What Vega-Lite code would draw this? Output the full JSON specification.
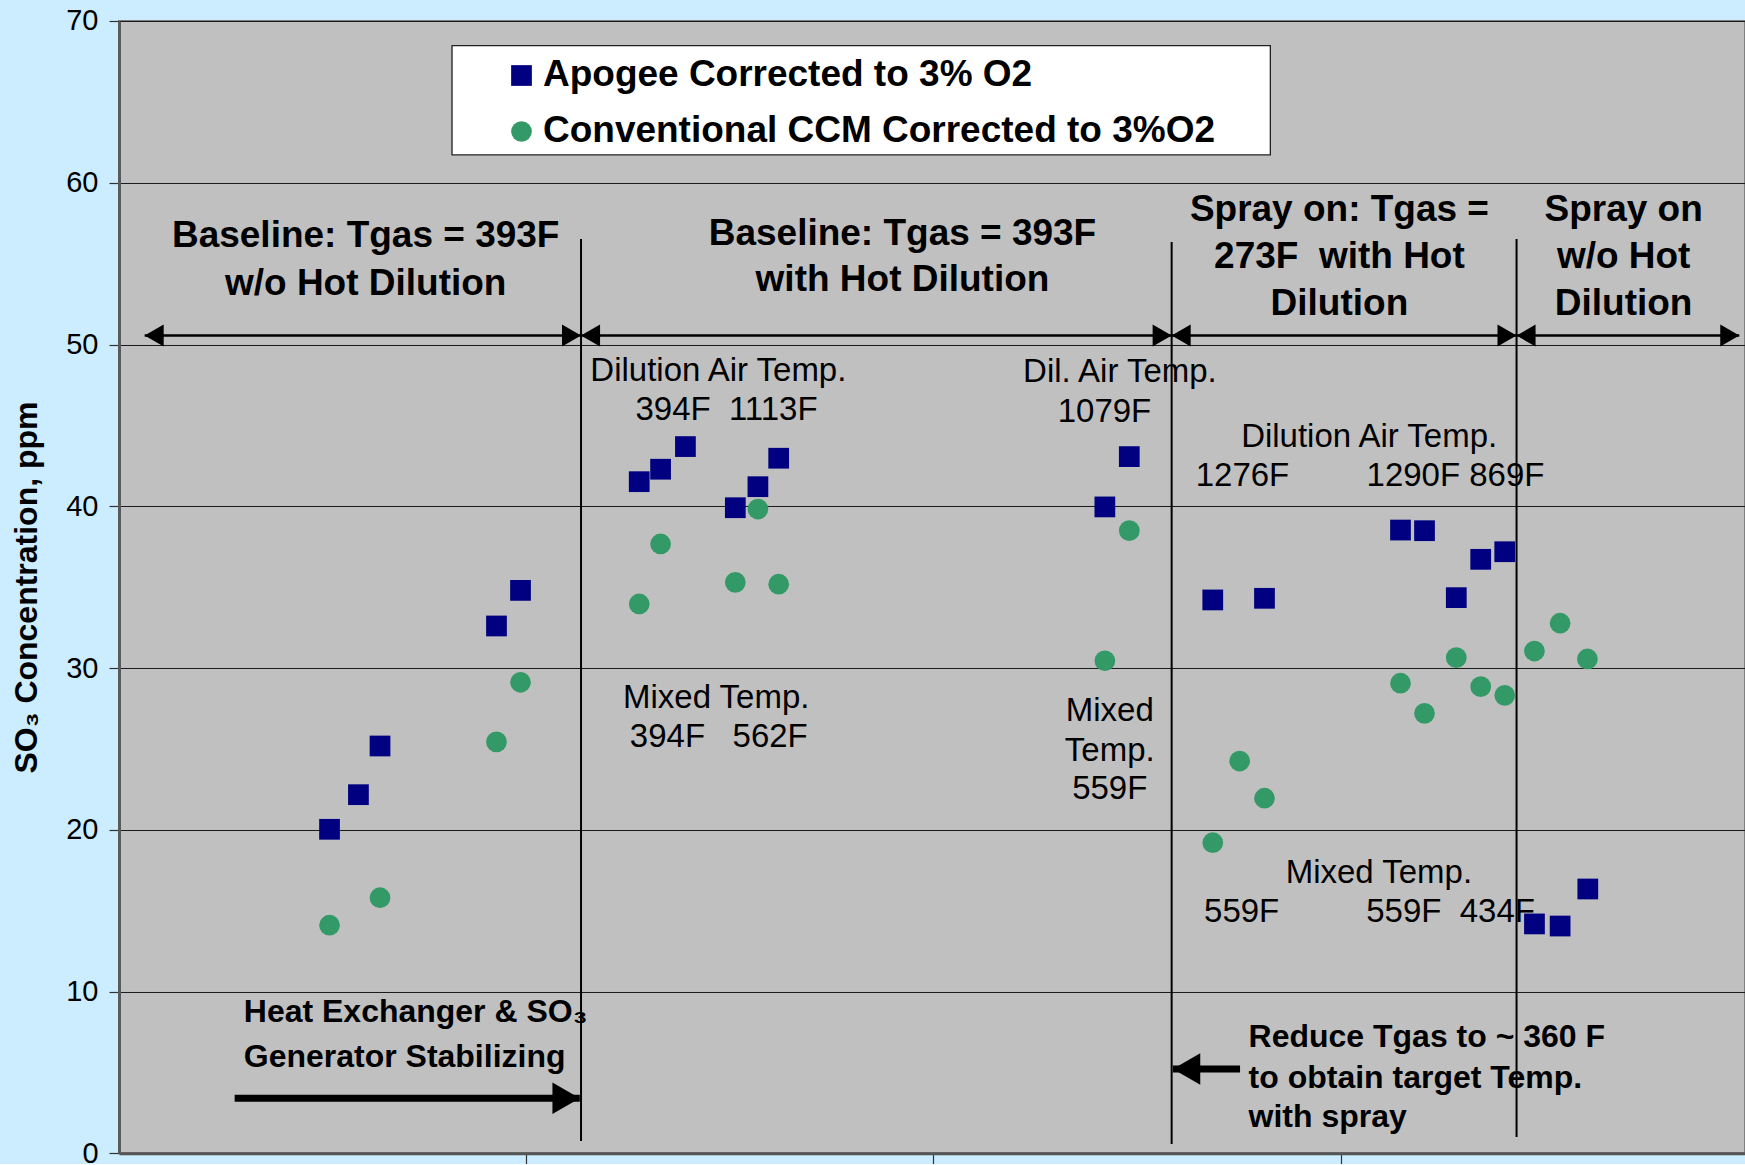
{
  "$schema": "https://vega.github.io/schema/vega-lite/v6.json",
  "width": 1626,
  "height": 1132.3,
  "autosize": {"type": "none"},
  "padding": {"left": 119, "top": 21, "right": 0, "bottom": 11},
  "background": "#CCECFF",
  "config": {
    "view": {"fill": "#C0C0C0", "stroke": "#808080", "strokeWidth": 2},
    "font": "Liberation Sans",
    "legend": {
      "orient": "none",
      "legendX": 384,
      "legendY": 36,
      "title": null,
      "padding": 0,
      "labelFont": "Liberation Sans",
      "labelFontSize": 37,
      "labelFontWeight": "bold",
      "labelColor": "#000000",
      "labelOffset": 3,
      "labelLimit": 1200,
      "rowPadding": 18,
      "symbolSize": 430,
      "symbolStrokeWidth": 0
    }
  },
  "datasets": {
    "readings": [
      {"t": 0.517, "so3": 20.03, "series": "Apogee Corrected to 3% O2"},
      {"t": 0.588, "so3": 22.17, "series": "Apogee Corrected to 3% O2"},
      {"t": 0.641, "so3": 25.18, "series": "Apogee Corrected to 3% O2"},
      {"t": 0.927, "so3": 32.6, "series": "Apogee Corrected to 3% O2"},
      {"t": 0.986, "so3": 34.8, "series": "Apogee Corrected to 3% O2"},
      {"t": 1.2775, "so3": 41.52, "series": "Apogee Corrected to 3% O2"},
      {"t": 1.33, "so3": 42.29, "series": "Apogee Corrected to 3% O2"},
      {"t": 1.391, "so3": 43.69, "series": "Apogee Corrected to 3% O2"},
      {"t": 1.5135, "so3": 39.91, "series": "Apogee Corrected to 3% O2"},
      {"t": 1.569, "so3": 41.21, "series": "Apogee Corrected to 3% O2"},
      {"t": 1.62, "so3": 42.97, "series": "Apogee Corrected to 3% O2"},
      {"t": 2.421, "so3": 39.96, "series": "Apogee Corrected to 3% O2"},
      {"t": 2.481, "so3": 43.07, "series": "Apogee Corrected to 3% O2"},
      {"t": 2.686, "so3": 34.21, "series": "Apogee Corrected to 3% O2"},
      {"t": 2.813, "so3": 34.31, "series": "Apogee Corrected to 3% O2"},
      {"t": 3.147, "so3": 38.53, "series": "Apogee Corrected to 3% O2"},
      {"t": 3.206, "so3": 38.49, "series": "Apogee Corrected to 3% O2"},
      {"t": 3.284, "so3": 34.35, "series": "Apogee Corrected to 3% O2"},
      {"t": 3.344, "so3": 36.72, "series": "Apogee Corrected to 3% O2"},
      {"t": 3.403, "so3": 37.19, "series": "Apogee Corrected to 3% O2"},
      {"t": 3.476, "so3": 14.18, "series": "Apogee Corrected to 3% O2"},
      {"t": 3.539, "so3": 14.05, "series": "Apogee Corrected to 3% O2"},
      {"t": 3.607, "so3": 16.34, "series": "Apogee Corrected to 3% O2"},
      {"t": 0.517, "so3": 14.1, "series": "Conventional CCM Corrected to 3%O2"},
      {"t": 0.641, "so3": 15.8, "series": "Conventional CCM Corrected to 3%O2"},
      {"t": 0.927, "so3": 25.43, "series": "Conventional CCM Corrected to 3%O2"},
      {"t": 0.986, "so3": 29.12, "series": "Conventional CCM Corrected to 3%O2"},
      {"t": 1.2775, "so3": 33.96, "series": "Conventional CCM Corrected to 3%O2"},
      {"t": 1.33, "so3": 37.67, "series": "Conventional CCM Corrected to 3%O2"},
      {"t": 1.5135, "so3": 35.3, "series": "Conventional CCM Corrected to 3%O2"},
      {"t": 1.569, "so3": 39.83, "series": "Conventional CCM Corrected to 3%O2"},
      {"t": 1.62, "so3": 35.18, "series": "Conventional CCM Corrected to 3%O2"},
      {"t": 2.421, "so3": 30.45, "series": "Conventional CCM Corrected to 3%O2"},
      {"t": 2.481, "so3": 38.49, "series": "Conventional CCM Corrected to 3%O2"},
      {"t": 2.686, "so3": 19.2, "series": "Conventional CCM Corrected to 3%O2"},
      {"t": 2.752, "so3": 24.25, "series": "Conventional CCM Corrected to 3%O2"},
      {"t": 2.813, "so3": 21.95, "series": "Conventional CCM Corrected to 3%O2"},
      {"t": 3.147, "so3": 29.06, "series": "Conventional CCM Corrected to 3%O2"},
      {"t": 3.206, "so3": 27.2, "series": "Conventional CCM Corrected to 3%O2"},
      {"t": 3.284, "so3": 30.64, "series": "Conventional CCM Corrected to 3%O2"},
      {"t": 3.344, "so3": 28.85, "series": "Conventional CCM Corrected to 3%O2"},
      {"t": 3.403, "so3": 28.31, "series": "Conventional CCM Corrected to 3%O2"},
      {"t": 3.476, "so3": 31.05, "series": "Conventional CCM Corrected to 3%O2"},
      {"t": 3.539, "so3": 32.77, "series": "Conventional CCM Corrected to 3%O2"},
      {"t": 3.606, "so3": 30.56, "series": "Conventional CCM Corrected to 3%O2"}
    ],
    "legendBox": [
      {"x1": 0.8178, "x2": 2.8274, "y1": 61.72, "y2": 68.48}
    ],
    "dividers": [
      {"t": 1.1346, "top": 56.53, "bottom": 0.76},
      {"t": 2.585, "top": 56.34, "bottom": 0.57},
      {"t": 3.432, "top": 56.53, "bottom": 1.0}
    ],
    "spans": [
      {"start": 0.063, "end": 1.1346, "level": 50.55},
      {"start": 1.1346, "end": 2.585, "level": 50.55},
      {"start": 2.585, "end": 3.432, "level": 50.55},
      {"start": 3.432, "end": 3.979, "level": 50.55}
    ],
    "pointers": [
      {"from": 0.284, "tip": 1.1316, "level": 3.4, "dir": "right"},
      {"from": 2.753, "tip": 2.588, "level": 5.21, "dir": "left"}
    ],
    "headings": [
      {"t": 0.6058, "y": 56.05, "label": "Baseline: Tgas = 393F"},
      {"t": 0.6058, "y": 53.07, "label": "w/o Hot Dilution"},
      {"t": 1.924, "y": 56.15, "label": "Baseline: Tgas = 393F"},
      {"t": 1.924, "y": 53.31, "label": "with Hot Dilution"},
      {"t": 2.997, "y": 57.64, "label": "Spray on: Tgas ="},
      {"t": 2.997, "y": 54.71, "label": "273F\u00a0\u00a0with Hot"},
      {"t": 2.997, "y": 51.83, "label": "Dilution"},
      {"t": 3.695, "y": 57.64, "label": "Spray on"},
      {"t": 3.695, "y": 54.71, "label": "w/o Hot"},
      {"t": 3.695, "y": 51.83, "label": "Dilution"}
    ],
    "notes": [
      {"t": 1.4718, "y": 47.77, "label": "Dilution Air Temp."},
      {"t": 1.4919, "y": 45.34, "label": "394F\u00a0\u00a01113F"},
      {"t": 2.458, "y": 47.7, "label": "Dil. Air Temp."},
      {"t": 2.42, "y": 45.23, "label": "1079F"},
      {"t": 3.07, "y": 43.69, "label": "Dilution Air Temp."},
      {"t": 2.759, "y": 41.25, "label": "1276F"},
      {"t": 3.282, "y": 41.25, "label": "1290F 869F"},
      {"t": 1.4666, "y": 27.51, "label": "Mixed Temp."},
      {"t": 1.4729, "y": 25.1, "label": "394F\u00a0\u00a0\u00a0562F"},
      {"t": 2.433, "y": 26.75, "label": "Mixed"},
      {"t": 2.433, "y": 24.27, "label": "Temp."},
      {"t": 2.433, "y": 21.89, "label": "559F"},
      {"t": 3.094, "y": 16.69, "label": "Mixed Temp."},
      {"t": 2.757, "y": 14.28, "label": "559F"},
      {"t": 3.27, "y": 14.28, "label": "559F\u00a0\u00a0434F"}
    ],
    "callouts": [
      {"t": 0.3065, "y": 8.14, "label": "Heat Exchanger & SO₃"},
      {"t": 0.3065, "y": 5.36, "label": "Generator Stabilizing"},
      {"t": 2.774, "y": 6.59, "label": "Reduce Tgas to ~ 360 F"},
      {"t": 2.774, "y": 4.02, "label": "to obtain target Temp."},
      {"t": 2.774, "y": 1.61, "label": "with spray"}
    ]
  },
  "layer": [
    {
      "data": {"name": "legendBox"},
      "mark": {"type": "rect", "fill": "#FFFFFF", "stroke": "#222222", "strokeWidth": 1.3},
      "encoding": {
        "x": {
          "field": "x1",
          "type": "quantitative",
          "scale": {"domain": [0, 3.993], "nice": false, "zero": false},
          "axis": {
            "title": "",
            "values": [1, 2, 3],
            "labels": false,
            "grid": false,
            "domain": true,
            "ticks": true,
            "domainColor": "#555555",
            "domainWidth": 3,
            "tickColor": "#333333",
            "tickSize": 11,
            "tickWidth": 1.2
          }
        },
        "x2": {"field": "x2"},
        "y": {
          "field": "y1",
          "type": "quantitative",
          "scale": {"domain": [0, 70], "nice": false},
          "axis": {
            "title": "SO₃ Concentration, ppm",
            "titleFont": "Liberation Sans",
            "titleFontSize": 32,
            "titleFontWeight": "bold",
            "titleColor": "#000000",
            "titleAngle": 270,
            "titleAlign": "center",
            "titleBaseline": "alphabetic",
            "titleX": -83,
            "titleY": 566,
            "values": [0, 10, 20, 30, 40, 50, 60, 70],
            "grid": true,
            "domain": true,
            "ticks": true,
            "labels": true,
            "labelFlush": false,
            "labelBaseline": "middle",
            "gridColor": "#1a1a1a",
            "gridWidth": 1,
            "gridOpacity": 1,
            "domainColor": "#5a5a5a",
            "domainWidth": 3,
            "tickColor": "#333333",
            "tickSize": 10,
            "tickWidth": 1.2,
            "labelFont": "Liberation Sans",
            "labelFontSize": 29,
            "labelColor": "#000000",
            "labelPadding": 11
          }
        },
        "y2": {"field": "y2"}
      }
    },
    {
      "data": {"name": "dividers"},
      "mark": {"type": "rule", "color": "#000000", "strokeWidth": 2},
      "encoding": {
        "x": {"field": "t", "type": "quantitative"},
        "y": {"field": "top", "type": "quantitative"},
        "y2": {"field": "bottom"}
      }
    },
    {
      "data": {"name": "spans"},
      "mark": {"type": "rule", "color": "#000000", "strokeWidth": 2.5},
      "encoding": {
        "x": {"field": "start", "type": "quantitative"},
        "x2": {"field": "end"},
        "y": {"field": "level", "type": "quantitative"}
      }
    },
    {
      "data": {"name": "spans"},
      "mark": {"type": "point", "shape": "triangle-left", "filled": true, "color": "#000000", "size": 484, "opacity": 1},
      "encoding": {
        "x": {"field": "start", "type": "quantitative"},
        "y": {"field": "level", "type": "quantitative"},
        "xOffset": {"value": 9.5}
      }
    },
    {
      "data": {"name": "spans"},
      "mark": {"type": "point", "shape": "triangle-right", "filled": true, "color": "#000000", "size": 484, "opacity": 1},
      "encoding": {
        "x": {"field": "end", "type": "quantitative"},
        "y": {"field": "level", "type": "quantitative"},
        "xOffset": {"value": -9.5}
      }
    },
    {
      "data": {"name": "pointers"},
      "transform": [{"filter": "datum.dir === 'right'"}],
      "mark": {"type": "rule", "color": "#000000", "strokeWidth": 7},
      "encoding": {
        "x": {"field": "from", "type": "quantitative"},
        "x2": {"field": "tip"},
        "x2Offset": {"value": -14},
        "y": {"field": "level", "type": "quantitative"}
      }
    },
    {
      "data": {"name": "pointers"},
      "transform": [{"filter": "datum.dir === 'left'"}],
      "mark": {"type": "rule", "color": "#000000", "strokeWidth": 7},
      "encoding": {
        "x": {"field": "from", "type": "quantitative"},
        "x2": {"field": "tip"},
        "x2Offset": {"value": 14},
        "y": {"field": "level", "type": "quantitative"}
      }
    },
    {
      "data": {"name": "pointers"},
      "transform": [{"filter": "datum.dir === 'right'"}],
      "mark": {"type": "point", "shape": "triangle-right", "filled": true, "color": "#000000", "size": 1000, "opacity": 1},
      "encoding": {
        "x": {"field": "tip", "type": "quantitative"},
        "y": {"field": "level", "type": "quantitative"},
        "xOffset": {"value": -13.7}
      }
    },
    {
      "data": {"name": "pointers"},
      "transform": [{"filter": "datum.dir === 'left'"}],
      "mark": {"type": "point", "shape": "triangle-left", "filled": true, "color": "#000000", "size": 1000, "opacity": 1},
      "encoding": {
        "x": {"field": "tip", "type": "quantitative"},
        "y": {"field": "level", "type": "quantitative"},
        "xOffset": {"value": 13.7}
      }
    },
    {
      "data": {"name": "readings"},
      "mark": {"type": "point", "filled": true, "size": 430, "opacity": 1, "strokeWidth": 0},
      "encoding": {
        "x": {"field": "t", "type": "quantitative"},
        "y": {"field": "so3", "type": "quantitative"},
        "color": {
          "field": "series",
          "type": "nominal",
          "scale": {
            "domain": ["Apogee Corrected to 3% O2", "Conventional CCM Corrected to 3%O2"],
            "range": ["#000080", "#339966"]
          }
        },
        "shape": {
          "field": "series",
          "type": "nominal",
          "scale": {
            "domain": ["Apogee Corrected to 3% O2", "Conventional CCM Corrected to 3%O2"],
            "range": ["square", "circle"]
          }
        }
      }
    },
    {
      "data": {"name": "headings"},
      "mark": {"type": "text", "font": "Liberation Sans", "fontSize": 37, "fontWeight": "bold", "align": "center", "baseline": "alphabetic", "color": "#000000"},
      "encoding": {
        "x": {"field": "t", "type": "quantitative"},
        "y": {"field": "y", "type": "quantitative"},
        "text": {"field": "label"}
      }
    },
    {
      "data": {"name": "notes"},
      "mark": {"type": "text", "font": "Liberation Sans", "fontSize": 33, "align": "center", "baseline": "alphabetic", "color": "#000000"},
      "encoding": {
        "x": {"field": "t", "type": "quantitative"},
        "y": {"field": "y", "type": "quantitative"},
        "text": {"field": "label"}
      }
    },
    {
      "data": {"name": "callouts"},
      "mark": {"type": "text", "font": "Liberation Sans", "fontSize": 32, "fontWeight": "bold", "align": "left", "baseline": "alphabetic", "color": "#000000"},
      "encoding": {
        "x": {"field": "t", "type": "quantitative"},
        "y": {"field": "y", "type": "quantitative"},
        "text": {"field": "label"}
      }
    }
  ]
}
